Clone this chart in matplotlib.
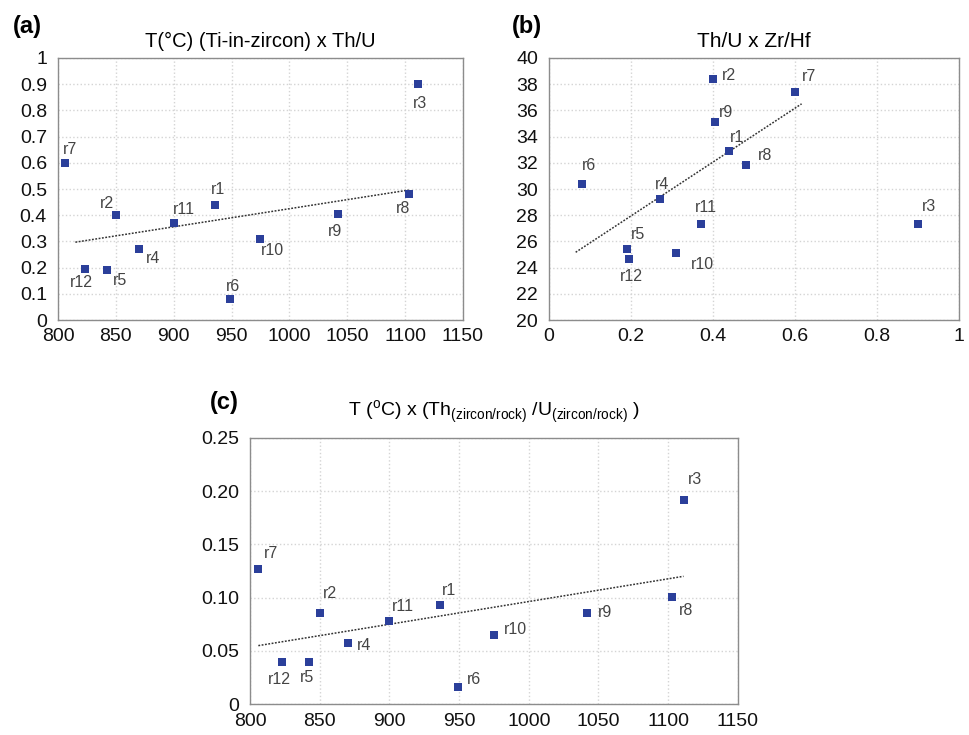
import matplotlib
matplotlib.use("Agg")
import matplotlib.pyplot as plt

plt.rcParams['font.family'] = ['Liberation Sans', 'DejaVu Sans']
plt.rcParams['mathtext.fontset'] = 'custom'
plt.rcParams['mathtext.rm'] = 'Liberation Sans'

# data
samples = ['r1', 'r2', 'r3', 'r4', 'r5', 'r6', 'r7', 'r8', 'r9', 'r10', 'r11', 'r12']
temp_c = [936, 850, 1111, 870, 842, 949, 806, 1103, 1042, 975, 900, 823]
th_u = [0.44, 0.40, 0.90, 0.27, 0.19, 0.08, 0.60, 0.48, 0.405, 0.31, 0.37, 0.195]
zr_hf = [32.9, 38.4, 27.35, 29.2, 25.4, 30.4, 37.4, 31.8, 35.1, 25.1, 27.35, 24.65]
th_u_ratio = [0.093, 0.086, 0.192, 0.057, 0.040, 0.016, 0.127, 0.101, 0.086, 0.065, 0.078, 0.040]

# trend lines as drawn (end points)
trend_a_x = [815, 1103]
trend_a_y = [0.297, 0.496]
trend_b_x = [0.065, 0.616]
trend_b_y = [25.17, 36.5]
trend_c_x = [806, 1111]
trend_c_y = [0.055, 0.120]

ticks_a_y = [0, 0.1, 0.2, 0.3, 0.4, 0.5, 0.6, 0.7, 0.8, 0.9, 1]
ticks_a_ylab = ['0', '0.1', '0.2', '0.3', '0.4', '0.5', '0.6', '0.7', '0.8', '0.9', '1']
ticks_t = [800, 850, 900, 950, 1000, 1050, 1100, 1150]
ticks_b_x = [0, 0.2, 0.4, 0.6, 0.8, 1]
ticks_b_xlab = ['0', '0.2', '0.4', '0.6', '0.8', '1']
ticks_b_y = list(range(20, 41, 2))
ticks_c_y = [0, 0.05, 0.10, 0.15, 0.20, 0.25]
ticks_c_ylab = ['0', '0.05', '0.10', '0.15', '0.20', '0.25']

# label offsets in pixels (dx right, dy up)
off_a = {'r1': (3, 15), 'r2': (-9, 12), 'r3': (2, -19), 'r4': (14, -9), 'r5': (13, -10),
         'r6': (3, 13), 'r7': (5, 13), 'r8': (-6, -14), 'r9': (-3, -18), 'r10': (12, -12),
         'r11': (10, 14), 'r12': (-3, -14)}
off_b = {'r1': (8, 14), 'r2': (16, 3), 'r3': (11, 17), 'r4': (2, 15), 'r5': (11, 15),
         'r6': (7, 18), 'r7': (14, 16), 'r8': (19, 10), 'r9': (11, 10), 'r10': (26, -11),
         'r11': (5, 16), 'r12': (2, -17)}
off_c = {'r1': (9, 15), 'r2': (10, 19), 'r3': (11, 20), 'r4': (17, -2), 'r5': (-2, -16),
         'r6': (16, 8), 'r7': (13, 15), 'r8': (14, -14), 'r9': (18, 0), 'r10': (22, 5),
         'r11': (14, 15), 'r12': (-3, -18)}

BLUE = '#2b3f9a'


def style_axes(ax):
    ax.grid(True, color='#d4d4d4', linestyle=':', linewidth=1.0)
    ax.set_axisbelow(True)
    for s in ax.spines.values():
        s.set_color('#8c8c8c')
        s.set_linewidth(1.0)
    ax.tick_params(length=0, labelsize=14, colors='#111111')
    ax.tick_params(axis='x', pad=6)
    ax.tick_params(axis='y', pad=8)


def draw_panel(ax, xs, ys, tx, ty, offsets):
    ax.plot(tx, ty, linestyle=(0, (1.2, 1.0)), color='#333333', linewidth=1.1, zorder=2)
    ax.scatter(xs, ys, marker='s', s=34, color=BLUE, zorder=3, linewidths=0)
    for name, x, y in zip(samples, xs, ys):
        dx, dy = offsets[name]
        ax.annotate(name, (x, y), xytext=(dx, dy), textcoords='offset pixels',
                    ha='center', va='center', fontsize=11.5, color='#444444')


fig = plt.figure(figsize=(9.7, 7.35), dpi=100)

# (a)
ax_a = fig.add_axes([0.0598, 0.5646, 0.4175, 0.3565])
draw_panel(ax_a, temp_c, th_u, trend_a_x, trend_a_y, off_a)
ax_a.set_xlim(800, 1150)
ax_a.set_ylim(0, 1)
ax_a.set_xticks(ticks_t)
ax_a.set_yticks(ticks_a_y)
ax_a.set_yticklabels(ticks_a_ylab)
style_axes(ax_a)
ax_a.set_title('T(°C) (Ti-in-zircon) x Th/U', fontsize=14.5, pad=8)

# (b)
ax_b = fig.add_axes([0.566, 0.5646, 0.4227, 0.3565])
draw_panel(ax_b, th_u, zr_hf, trend_b_x, trend_b_y, off_b)
ax_b.set_xlim(0, 1)
ax_b.set_ylim(20, 40)
ax_b.set_xticks(ticks_b_x)
ax_b.set_xticklabels(ticks_b_xlab)
ax_b.set_yticks(ticks_b_y)
style_axes(ax_b)
ax_b.set_title('Th/U x Zr/Hf', fontsize=15, pad=8)

# (c)
ax_c = fig.add_axes([0.2577, 0.0418, 0.503, 0.3627])
draw_panel(ax_c, temp_c, th_u_ratio, trend_c_x, trend_c_y, off_c)
ax_c.set_xlim(800, 1150)
ax_c.set_ylim(0, 0.25)
ax_c.set_xticks(ticks_t)
ax_c.set_yticks(ticks_c_y)
ax_c.set_yticklabels(ticks_c_ylab)
style_axes(ax_c)
ax_c.set_title(r'T ($^{\rm o}$C) x (Th$_{\rm (zircon/rock)}$ /U$_{\rm (zircon/rock)}$ )',
               fontsize=14, pad=15)

# panel letters
fig.text(0.013, 0.98, '(a)', fontsize=17, fontweight='bold', va='top')
fig.text(0.528, 0.98, '(b)', fontsize=17, fontweight='bold', va='top')
fig.text(0.216, 0.468, '(c)', fontsize=17, fontweight='bold', va='top')

fig.savefig('out.png', dpi=100)
